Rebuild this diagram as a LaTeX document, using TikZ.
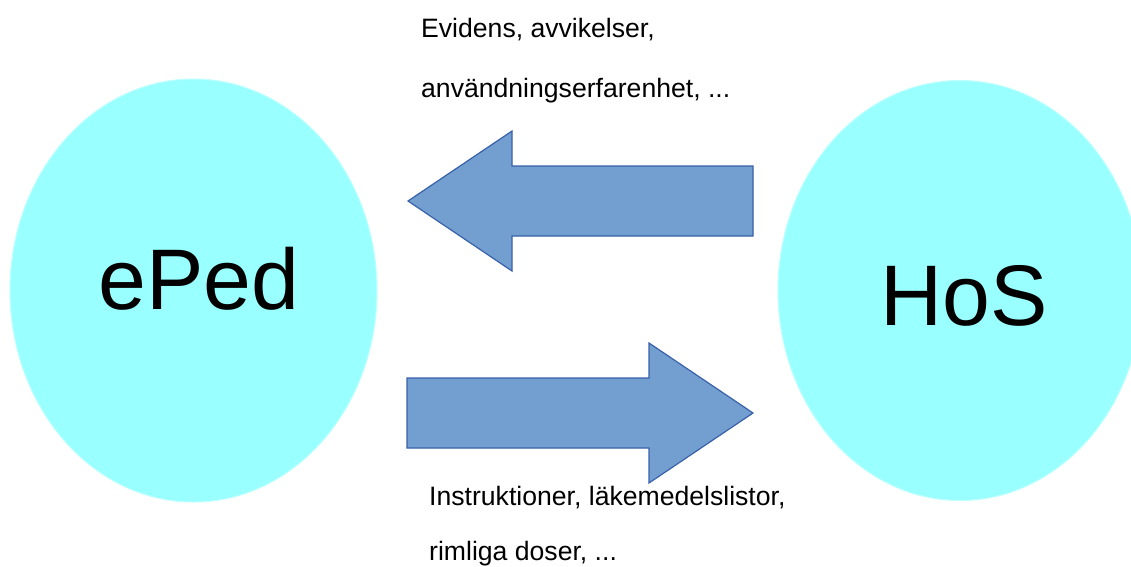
\documentclass[tikz,border=0pt]{standalone}
\usepackage{fontspec}
\setmainfont{Liberation Sans}
\usetikzlibrary{shapes.geometric}
\definecolor{cyanfill}{RGB}{153,255,255}
\definecolor{cyanedge}{RGB}{190,255,255}
\definecolor{arrowfill}{RGB}{114,159,207}
\definecolor{arrowedge}{RGB}{56,97,170}
\tikzset{
  bubble/.style={ellipse, fill=cyanfill, draw=cyanedge, line width=1pt, inner sep=0pt},
  bigtext/.style={anchor=base, inner sep=0pt, font=\fontsize{86}{90}\selectfont},
  smalltext/.style={anchor=base west, inner sep=0pt, font=\fontsize{26.6}{30}\selectfont},
  blockarrow/.style={fill=arrowfill, draw=arrowedge, line width=1.2pt, line join=miter}
}
\begin{document}
\begin{tikzpicture}[x=1pt,y=-1pt]
\useasboundingbox (0,0) rectangle (1131,566);
\begin{scope}
\clip (0,0) rectangle (1131,566);
\node[bubble, minimum width=367pt, minimum height=423pt] (eped) at (193.5,290.5) {};
\node[bubble, minimum width=364pt, minimum height=420pt] (hos) at (960,290.5) {};
\end{scope}
\node[bigtext] (epedlabel) at (199,309) {ePed};
\node[bigtext] (hoslabel) at (964,325) {HoS};
% top arrow pointing left
\draw[blockarrow] (408,201) -- (512,131) -- (512,166) -- (753,166) -- (753,236) -- (512,236) -- (512,271) -- cycle;
% bottom arrow pointing right
\draw[blockarrow] (753,413) -- (649,343) -- (649,378) -- (407,378) -- (407,448) -- (649,448) -- (649,483) -- cycle;
\node[smalltext] (t1) at (421,37) {Evidens, avvikelser,};
\node[smalltext] (t2) at (421,97) {användningserfarenhet, ...};
\node[smalltext] (b1) at (429,505) {Instruktioner, läkemedelslistor,};
\node[smalltext] (b2) at (429,560) {rimliga doser, ...};
\end{tikzpicture}
\end{document}
